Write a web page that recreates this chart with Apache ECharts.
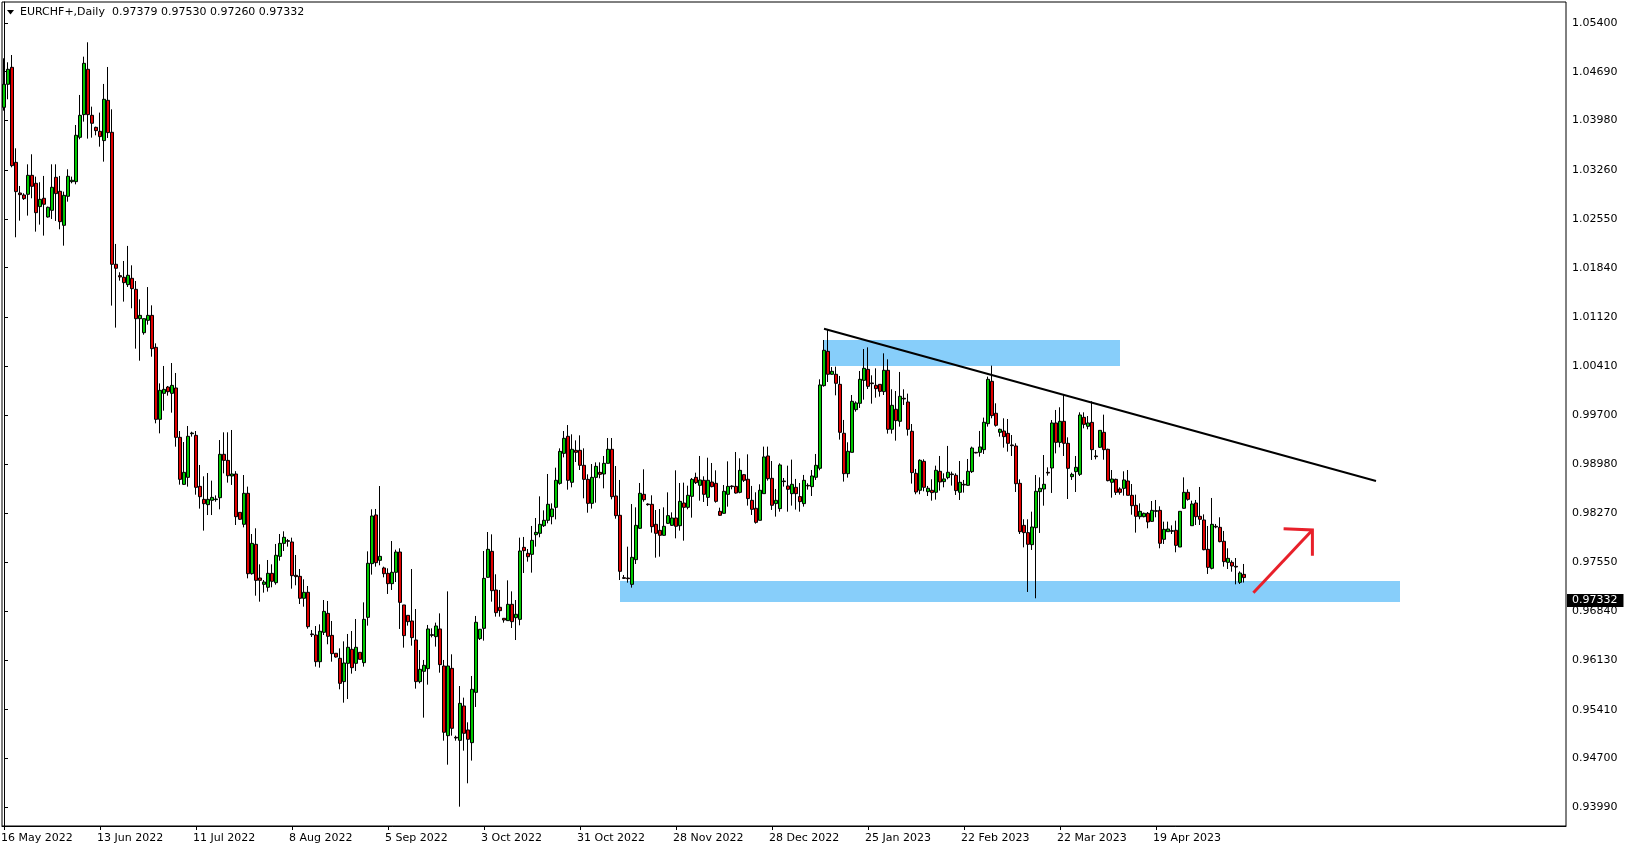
<!DOCTYPE html>
<html><head><meta charset="utf-8">
<script src="https://cdn.jsdelivr.net/npm/echarts@6/dist/echarts.min.js"></script>
<style>html,body{margin:0;padding:0;background:#fff}#c{width:1629px;height:850px}</style>
</head><body><div id="c"></div><script>
// [open, close, low, high] per daily bar
const candles = [
[1.04172,1.04507,1.04124,1.04885],[1.04507,1.04725,1.04289,1.04827],[1.04754,1.03324,1.03300,1.04933],[1.03372,1.02946,1.02282,1.03576],
[1.02926,1.02902,1.02524,1.03028],[1.02897,1.02844,1.02825,1.02922],[1.02907,1.03183,1.02597,1.03343],[1.03183,1.03023,1.02849,1.03489],
[1.03067,1.02640,1.02364,1.03164],[1.02728,1.02834,1.02466,1.03082],[1.02849,1.02762,1.02306,1.03174],[1.02577,1.02718,1.02568,1.02728],
[1.02674,1.03009,1.02548,1.03343],[1.03154,1.02917,1.02519,1.03343],[1.02951,1.02509,1.02398,1.03174],[1.02456,1.02892,1.02160,1.02946],
[1.02878,1.03169,1.02800,1.03271],[1.03091,1.03111,1.03067,1.03164],[1.03091,1.03765,1.03052,1.03915],[1.03736,1.04056,1.03707,1.04352],
[1.04066,1.04812,1.03964,1.04909],[1.04725,1.04066,1.03717,1.05118],[1.04056,1.03940,1.03731,1.04182],[1.03881,1.03833,1.03765,1.03891],
[1.03823,1.03746,1.03600,1.04095],[1.03688,1.04289,1.03382,1.04512],[1.04274,1.03804,1.03726,1.04759],[1.03809,1.01889,1.01288,1.04143],
[1.01889,1.01831,1.00968,1.02185],[1.01724,1.01705,1.01651,1.01773],[1.01700,1.01622,1.01346,1.01937],[1.01593,1.01729,1.01559,1.02156],
[1.01685,1.01535,1.01249,1.01874],[1.01525,1.01098,1.00662,1.01646],[1.01098,1.01146,1.00487,1.01379],[1.00894,1.01098,1.00865,1.01098],
[1.01074,1.01146,1.01011,1.01558],[1.01146,1.00662,1.00545,1.01292],[1.00681,0.99634,0.99576,1.00739],[0.99634,1.00056,0.99430,1.00157],
[1.00012,1.00070,0.99760,1.00410],[1.00104,1.00036,0.99978,1.00119],[1.00012,1.00128,0.99731,1.00453],[1.00090,0.99372,0.99236,1.00308],
[0.99372,0.98761,0.98684,0.99464],[0.98688,0.98863,0.98679,0.99304],[0.98790,0.99387,0.98655,0.99537],[0.99425,0.99435,0.99382,0.99454],
[0.99401,0.98645,0.98538,0.99464],[0.98659,0.98509,0.98335,0.98970],[0.98470,0.98407,0.98015,0.98805],[0.98393,0.98470,0.98242,0.98853],
[0.98456,0.98499,0.98242,0.98742],[0.98466,0.98475,0.98436,0.98528],[0.98494,0.99125,0.98325,0.99333],[0.99125,0.99037,0.98848,0.99445],
[0.99037,0.98814,0.98713,0.99445],[0.98810,0.98839,0.98680,0.99479],[0.98839,0.98218,0.98097,0.98880],[0.98281,0.98180,0.98170,0.98281],
[0.98107,0.98558,0.98063,0.98824],[0.98558,0.97389,0.97321,0.98655],[0.97389,0.97830,0.97375,0.97966],[0.97816,0.97292,0.97069,0.98049],
[0.97326,0.97292,0.96982,0.97525],[0.97234,0.97268,0.97113,0.97297],[0.97191,0.97394,0.97128,0.97588],[0.97394,0.97278,0.97191,0.97525],
[0.97258,0.97656,0.97229,0.97821],[0.97641,0.97830,0.97578,0.97966],[0.97830,0.97918,0.97719,0.98005],[0.97869,0.97860,0.97782,0.97894],
[0.97850,0.97360,0.97171,0.97913],[0.97365,0.97346,0.97220,0.97661],[0.97350,0.97031,0.96948,0.97457],[0.97031,0.97118,0.96909,0.97307],
[0.97118,0.96618,0.96589,0.97210],[0.96512,0.96502,0.96468,0.96570],[0.96497,0.96109,0.96037,0.96628],[0.96109,0.96551,0.96022,0.96652],
[0.96536,0.96841,0.96497,0.97006],[0.96812,0.96478,0.96362,0.96992],[0.96492,0.96226,0.96109,0.96701],[0.96231,0.96177,0.96168,0.96231],
[0.96158,0.95794,0.95707,0.96303],[0.95819,0.96090,0.95513,0.96405],[0.96085,0.96318,0.95566,0.96512],[0.96289,0.96022,0.95935,0.96555],
[0.96085,0.96318,0.95974,0.96730],[0.96245,0.96143,0.96143,0.96245],[0.96095,0.96725,0.96037,0.96972],[0.96754,0.97540,0.96633,0.97714],
[0.97535,0.98228,0.97375,0.98325],[0.98243,0.97549,0.97491,0.98330],[0.97583,0.97641,0.97511,0.98664],[0.97472,0.97389,0.97336,0.97491],
[0.97394,0.97244,0.97094,0.97467],[0.97244,0.97409,0.97152,0.97864],[0.97409,0.97704,0.97268,0.97738],[0.97704,0.96972,0.96585,0.97758],
[0.96934,0.96488,0.96313,0.96934],[0.96783,0.96691,0.96633,0.96783],[0.96701,0.96459,0.96342,0.97457],[0.96425,0.95819,0.95717,0.96875],
[0.95819,0.95998,0.95794,0.96279],[0.95969,0.96056,0.95295,0.96134],[0.96008,0.96585,0.95775,0.96643],[0.96502,0.96492,0.96463,0.96594],
[0.96473,0.96628,0.96328,0.96677],[0.96585,0.96066,0.95949,0.96812],[0.96046,0.95082,0.94960,0.96134],[0.95033,0.96046,0.94611,0.97132],
[0.96012,0.95140,0.95033,0.96216],[0.95009,0.94999,0.94960,0.95033],[0.94965,0.95503,0.94000,0.95755],[0.95465,0.95067,0.94815,0.95586],
[0.95116,0.94980,0.94340,0.95227],[0.94931,0.95707,0.94670,0.95901],[0.95663,0.96682,0.95450,0.96774],[0.96444,0.96580,0.96425,0.96580],
[0.96594,0.97321,0.96415,0.97719],[0.97336,0.97743,0.97331,0.97995],[0.97714,0.97142,0.96982,0.97961],[0.97152,0.96822,0.96764,0.97380],
[0.96900,0.96851,0.96764,0.97152],[0.96740,0.96715,0.96677,0.96740],[0.96706,0.96943,0.96701,0.97292],[0.96943,0.96691,0.96599,0.97132],
[0.96749,0.96798,0.96424,0.97006],[0.96725,0.97719,0.96638,0.97913],[0.97772,0.97724,0.97399,0.97923],[0.97685,0.97636,0.97564,0.97748],
[0.97670,0.97874,0.97404,0.98083],[0.97956,0.97990,0.97782,0.98199],[0.97976,0.98107,0.97918,0.98514],[0.98087,0.98165,0.98068,0.98310],
[0.98165,0.98398,0.98121,0.98839],[0.98218,0.98330,0.98107,0.98412],[0.98354,0.98747,0.98179,0.98931],[0.98703,0.99168,0.98684,0.99212],
[0.99139,0.99358,0.99081,0.99464],[0.99387,0.98747,0.98611,0.99551],[0.98718,0.99198,0.98645,0.99416],[0.99183,0.99154,0.99013,0.99328],
[0.99183,0.98965,0.98897,0.99401],[0.98965,0.98761,0.98485,0.99212],[0.98761,0.98412,0.98276,0.98834],[0.98412,0.98790,0.98335,0.98984],
[0.98790,0.98950,0.98422,0.99008],[0.98863,0.98834,0.98776,0.99008],[0.98839,0.98994,0.98630,0.99101],[0.98994,0.99198,0.98994,0.99362],
[0.99198,0.98509,0.98470,0.99362],[0.98519,0.98233,0.98189,0.98955],[0.98238,0.97423,0.97297,0.98752],[0.97331,0.97321,0.97312,0.97370],
[0.97326,0.97316,0.97258,0.97782],[0.97234,0.97627,0.97186,0.98402],[0.97593,0.98092,0.97530,0.98354],[0.98049,0.98558,0.98039,0.98708],
[0.98543,0.98465,0.98436,0.98907],[0.98402,0.98393,0.98378,0.98412],[0.98398,0.98073,0.97986,0.98529],[0.98107,0.97976,0.97622,0.98315],
[0.98019,0.97947,0.97636,0.98330],[0.97947,0.98078,0.97942,0.98354],[0.98121,0.98233,0.98112,0.98572],[0.98092,0.98199,0.98083,0.98281],
[0.98199,0.98078,0.97903,0.98892],[0.98087,0.98441,0.98015,0.98708],[0.98417,0.98354,0.97869,0.98713],[0.98354,0.98529,0.98325,0.98669],
[0.98514,0.98761,0.98204,0.98781],[0.98790,0.98713,0.98693,0.98858],[0.98674,0.98752,0.98451,0.99101],[0.98747,0.98543,0.98432,0.98805],
[0.98499,0.98747,0.98373,0.99076],[0.98722,0.98655,0.98645,0.98999],[0.98703,0.98441,0.98422,0.98892],[0.98296,0.98238,0.98228,0.98349],
[0.98267,0.98587,0.98262,0.98679],[0.98543,0.98659,0.98364,0.99023],[0.98664,0.98655,0.98616,0.98674],[0.98659,0.98562,0.98553,0.99159],
[0.98572,0.98892,0.98558,0.99067],[0.98829,0.98747,0.98722,0.98839],[0.98762,0.98481,0.98379,0.99125],[0.98456,0.98325,0.98243,0.98665],
[0.98340,0.98136,0.98117,0.98573],[0.98165,0.98602,0.98165,0.98689],[0.98553,0.99087,0.98553,0.99237],[0.99101,0.98771,0.98742,0.99237],
[0.98776,0.98384,0.98316,0.99028],[0.98408,0.98456,0.98219,0.98621],[0.98335,0.98970,0.98291,0.98994],[0.98737,0.98728,0.98655,0.98781],
[0.98665,0.98616,0.98291,0.98960],[0.98553,0.98689,0.98379,0.99048],[0.98645,0.98553,0.98321,0.98767],[0.98510,0.98437,0.98291,0.98708],
[0.98408,0.98747,0.98364,0.98825],[0.98674,0.98665,0.98611,0.98704],[0.98655,0.98810,0.98519,0.98897],[0.98791,0.98965,0.98752,0.99130],
[0.98922,1.00134,0.98893,1.00216],[1.00124,1.00638,1.00109,1.00788],[1.00623,1.00289,1.00177,1.00948],[1.00289,1.00332,1.00284,1.00395],
[1.00289,1.00158,0.99983,1.00400],[1.00143,0.99445,0.99339,1.00265],[0.99431,0.98844,0.98728,0.99625],[0.98844,0.99169,0.98786,0.99300],
[0.99154,0.99896,0.99154,0.99988],[0.99775,0.99872,0.99746,0.99896],[0.99867,1.00216,0.99799,1.00337],[1.00201,1.00376,0.99920,1.00657],
[1.00361,1.00114,1.00075,1.00681],[1.00163,1.00153,0.99862,1.00274],[1.00129,1.00080,0.99949,1.00376],[1.00143,1.00041,0.99964,1.00143],
[1.00037,1.00347,0.99988,1.00594],[1.00347,0.99489,0.99426,1.00507],[0.99489,0.99838,0.99426,1.00071],[0.99780,0.99615,0.99324,1.00046],
[0.99605,0.99969,0.99528,1.00323],[0.99940,0.99930,0.99843,1.00071],[0.99886,0.99489,0.99397,1.00008],[0.99460,0.98859,0.98699,0.99566],
[0.98849,0.98577,0.98544,0.98912],[0.98602,0.99038,0.98544,0.99053],[0.99023,0.98645,0.98587,0.99053],[0.98582,0.98631,0.98519,0.98665],
[0.98602,0.98568,0.98451,0.98762],[0.98573,0.98893,0.98466,0.98960],[0.98878,0.98723,0.98597,0.99101],[0.98728,0.98767,0.98645,0.98849],
[0.98786,0.98864,0.98762,0.99247],[0.98839,0.98830,0.98670,0.98873],[0.98820,0.98597,0.98534,0.98849],[0.98573,0.98718,0.98461,0.99028],
[0.98689,0.98679,0.98568,0.98752],[0.98674,0.98878,0.98670,0.99057],[0.98873,0.99217,0.98854,0.99237],[0.99154,0.99145,0.99140,0.99159],
[0.99154,0.99232,0.99091,0.99465],[0.99193,0.99591,0.99130,0.99659],[0.99571,1.00216,0.99528,1.00255],[1.00187,0.99688,0.99649,1.00415],
[0.99722,0.99547,0.99528,0.99867],[0.99445,0.99489,0.99382,0.99499],[0.99464,0.99382,0.99222,0.99649],[0.99430,0.99285,0.99164,0.99639],
[0.99261,0.99251,0.99101,0.99406],[0.99246,0.98698,0.98577,0.99285],[0.98703,0.98000,0.97966,0.98761],[0.98092,0.97986,0.97772,0.98180],
[0.97986,0.97816,0.97123,0.98180],[0.97811,0.98068,0.97734,0.98291],[0.98058,0.98587,0.97031,0.98824],[0.98582,0.98630,0.97981,0.98790],
[0.98621,0.98689,0.98378,0.99115],[0.98863,0.98853,0.98815,0.98936],[0.98926,0.99581,0.98563,0.99624],[0.99581,0.99299,0.99139,0.99770],
[0.99299,0.99605,0.99227,0.99809],[0.99605,0.99285,0.99101,0.99998],[0.99285,0.98921,0.98475,0.99372],[0.98800,0.98834,0.98752,0.98858],
[0.98873,0.98936,0.98577,0.99101],[0.98834,0.99697,0.98810,0.99736],[0.99663,0.99561,0.99503,0.99736],[0.99532,0.99581,0.99489,0.99682],
[0.99590,0.99193,0.99043,0.99896],[0.99101,0.99091,0.99052,0.99188],[0.99227,0.99474,0.99217,0.99474],[0.99445,0.99193,0.99047,0.99702],
[0.99198,0.98742,0.98732,0.99207],[0.98718,0.98766,0.98495,0.98897],[0.98761,0.98572,0.98533,0.98771],[0.98621,0.98572,0.98538,0.98645],
[0.98630,0.98752,0.98524,0.98878],[0.98737,0.98529,0.98529,0.98897],[0.98529,0.98378,0.98247,0.98693],[0.98383,0.98223,0.97986,0.98538],
[0.98218,0.98296,0.98180,0.98412],[0.98218,0.98267,0.98209,0.98277],[0.98267,0.98141,0.98049,0.98286],[0.98150,0.98310,0.98141,0.98446],
[0.98306,0.98296,0.98209,0.98461],[0.98310,0.97831,0.97758,0.98369],[0.97889,0.98034,0.97821,0.98146],[0.98000,0.98039,0.98000,0.98146],
[0.98015,0.98005,0.97966,0.98092],[0.98020,0.97801,0.97700,0.98160],[0.97777,0.98296,0.97777,0.98296],[0.98340,0.98572,0.98335,0.98790],
[0.98572,0.98470,0.98451,0.98616],[0.98087,0.98403,0.98087,0.98451],[0.98417,0.98218,0.98097,0.98461],[0.98223,0.98180,0.98097,0.98650],
[0.98170,0.97738,0.97729,0.98252],[0.97743,0.97481,0.97385,0.98083],[0.97467,0.98107,0.97452,0.98490],[0.98078,0.98068,0.98049,0.98112],
[0.98063,0.97855,0.97845,0.98209],[0.97860,0.97564,0.97491,0.98010],[0.97554,0.97612,0.97457,0.97758],[0.97554,0.97501,0.97418,0.97583],
[0.97496,0.97486,0.97234,0.97617],[0.97263,0.97399,0.97239,0.97423],[0.97379,0.97332,0.97260,0.97530]
];
const tickLabels = ['16 May 2022','13 Jun 2022','11 Jul 2022','8 Aug 2022','5 Sep 2022','3 Oct 2022','31 Oct 2022','28 Nov 2022','28 Dec 2022','25 Jan 2023','22 Feb 2023','22 Mar 2023','19 Apr 2023'];
const tickEvery = 24;          // bars between date labels
const slotCount = 391;         // bar slots visible in the window
const categories = Array.from({length: slotCount}, (_, i) => String(i));
const priceTicks = [1.05400,1.04690,1.03980,1.03260,1.02550,1.01840,1.01120,1.00410,0.99700,0.98980,0.98270,0.97550,0.96840,0.96130,0.95410,0.94700,0.93990];
const priceMin = 0.93719, priceMax = 1.05704;
const lastPrice = 0.97332;
const headerText = 'EURCHF+,Daily  0.97379 0.97530 0.97260 0.97332';
// zones: [fromBar, toBar, lowPrice, highPrice]
const zones = [[154, 349, 0.96977, 0.97282], [205, 279, 1.00410, 1.00788]];
const trendLine = [[205, 1.00952], [343, 0.98737]];
const arrowShaft = [[312.35, 0.97112], [327.1, 0.98024]];
const arrowHead = [[319.9, 0.98043], [327.1, 0.98024], [327.1, 0.97650]];

const FONT = 'DejaVu Sans';
const isTick = (i) => i % tickEvery === 0 && i / tickEvery < tickLabels.length;
const chart = echarts.init(document.getElementById('c'), null, {renderer: 'canvas'});
chart.setOption({
  animation: false,
  backgroundColor: '#ffffff',
  grid: {left: 2, top: 2, width: 1564, height: 824, show: true, borderColor: '#000', borderWidth: 1,
         backgroundColor: 'transparent', containLabel: false, outerBoundsMode: 'none'},
  xAxis: [{
    type: 'category', data: categories, boundaryGap: true,
    axisLine: {show: true, lineStyle: {color: '#000', width: 1}},
    axisTick: {show: true, alignWithLabel: true, length: 4, interval: isTick, lineStyle: {color: '#000'}},
    axisLabel: {show: true, interval: isTick,
                formatter: (v, i) => isTick(i) ? '{t|' + tickLabels[i / tickEvery] + '}' : '',
                rich: {t: {fontFamily: FONT, fontSize: 11, color: '#000', padding: [0, 0, 0, 0]}},
                align: 'left', color: '#000', fontFamily: FONT, fontSize: 11, margin: 7, padding: [0, 0, 0, -3]},
    splitLine: {show: false}, axisPointer: {show: false}
  }, {
    type: 'value', min: -0.5, max: slotCount - 0.5, show: false, splitLine: {show: false}
  }],
  yAxis: {
    type: 'value', position: 'right', min: priceMin, max: priceMax,
    axisLine: {show: true, lineStyle: {color: '#000'}},
    axisTick: {show: true, length: 4, customValues: priceTicks, lineStyle: {color: '#000'}},
    axisLabel: {show: true, customValues: priceTicks, formatter: v => v.toFixed(5), color: '#000',
                fontFamily: FONT, fontSize: 11, margin: 6},
    splitLine: {show: false}
  },
  graphic: [
    {type: 'polygon', shape: {points: [[7, 10], [14, 10], [10.5, 14.5]]}, style: {fill: '#000'}, z: 100},
    {type: 'text', left: 20, top: 7, style: {text: headerText, fill: '#000', font: '11px "DejaVu Sans"'}, z: 100}
  ],
  series: [
    {
      type: 'custom', xAxisIndex: 1, yAxisIndex: 0, z: 1, silent: true, clip: true,
      data: zones, encode: {x: [0, 1], y: [2, 3]},
      renderItem: (params, api) => {
        const p1 = api.coord([api.value(0), api.value(3)]);
        const p2 = api.coord([api.value(1), api.value(2)]);
        return {type: 'rect', shape: {x: p1[0], y: p1[1], width: p2[0] - p1[0], height: p2[1] - p1[1]},
                style: {fill: '#87CEFA'}};
      }
    },
    {
      type: 'candlestick', xAxisIndex: 0, yAxisIndex: 0, z: 3, barWidth: 3, silent: true,
      data: candles,
      itemStyle: {color: '#00C800', color0: '#E00000', borderColor: '#000', borderColor0: '#000',
                  borderColorDoji: '#000', borderWidth: 1},
      markLine: {
        silent: true, symbol: ['none', 'none'], animation: false,
        lineStyle: {color: 'rgba(0,0,0,0)', width: 0},
        label: {show: true, position: 'end', formatter: lastPrice.toFixed(5), backgroundColor: '#000',
                color: '#fff', fontFamily: FONT, fontSize: 11, padding: [1, 6, 1, 5], distance: 1},
        data: [{yAxis: lastPrice}]
      }
    },
    {
      type: 'line', xAxisIndex: 1, yAxisIndex: 0, z: 5, silent: true, showSymbol: false, symbol: 'none',
      data: trendLine, lineStyle: {color: '#000', width: 2}
    },
    {
      type: 'line', xAxisIndex: 1, yAxisIndex: 0, z: 6, silent: true, showSymbol: false, symbol: 'none',
      data: arrowShaft, lineStyle: {color: '#E8202A', width: 3}
    },
    {
      type: 'line', xAxisIndex: 1, yAxisIndex: 0, z: 6, silent: true, showSymbol: false, symbol: 'none',
      data: arrowHead, lineStyle: {color: '#E8202A', width: 3, join: 'miter'}
    }
  ]
});
</script></body></html>
